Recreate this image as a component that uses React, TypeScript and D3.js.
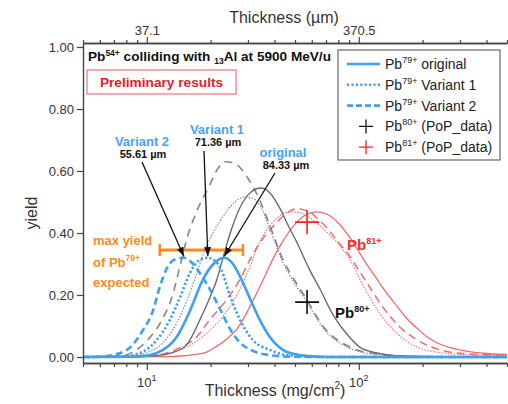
import React, { useEffect, useRef } from 'react';
import * as d3 from 'd3';

type Pt = [number, number];

// thickness (mg/cm^2) vs yield
const pb79Original: Pt[] = [[5, 0], [9.3, 0.002], [11.15, 0.013], [13.85, 0.065], [16.0, 0.15], [18.4, 0.25], [20.6, 0.3], [23.2, 0.32], [25.5, 0.3], [27.5, 0.26], [30.6, 0.19], [34.1, 0.12], [38.0, 0.065], [43.8, 0.023], [52.7, 0.006], [65, 0.001], [80, 0], [500, 0]];
const pb79Variant1: Pt[] = [[5, 0], [7.7, 0.002], [9.3, 0.013], [11.15, 0.055], [12.85, 0.12], [14.3, 0.19], [15.95, 0.27], [17.5, 0.31], [19.4, 0.32], [21.0, 0.31], [22.5, 0.28], [24.6, 0.2], [27.5, 0.12], [31.6, 0.055], [38, 0.023], [45.8, 0.006], [60, 0.001], [75, 0], [500, 0]];
const pb79Variant2: Pt[] = [[5, 0], [6.0, 0.001], [6.9, 0.006], [8.3, 0.03], [9.6, 0.087], [10.7, 0.15], [11.5, 0.225], [12.4, 0.285], [13.6, 0.315], [14.95, 0.32], [16.3, 0.305], [17.8, 0.27], [19.2, 0.235], [20.5, 0.2], [22.5, 0.145], [24.6, 0.092], [27.2, 0.05], [31.6, 0.02], [38, 0.006], [48, 0.001], [60, 0], [500, 0]];

const pb80Original: Pt[] = [[5, 0], [9, 0.001], [11.15, 0.005], [13.3, 0.015], [15.4, 0.039], [17.8, 0.12], [19.5, 0.18], [21.4, 0.25], [23.3, 0.34], [25.2, 0.416], [28.4, 0.5], [31, 0.532], [34.5, 0.545], [38, 0.53], [42.4, 0.48], [46, 0.43], [51, 0.37], [58.7, 0.28], [65.5, 0.22], [75, 0.14], [90, 0.065], [101, 0.032], [121.6, 0.013], [150, 0.004], [220, 0.001], [300, 0], [500, 0]];
const pb80Variant1: Pt[] = [[5, 0], [8, 0.002], [9.9, 0.013], [11.9, 0.045], [13.85, 0.11], [15.6, 0.19], [17.2, 0.27], [18.4, 0.33], [20.5, 0.4], [23, 0.455], [26, 0.5], [29, 0.516], [31.5, 0.512], [34.1, 0.49], [38, 0.415], [43.8, 0.305], [50, 0.235], [56.85, 0.177], [67.6, 0.095], [90.7, 0.028], [121.6, 0.008], [180, 0.002], [300, 0], [500, 0]];
const pb80Variant2: Pt[] = [[5, 0], [7.5, 0.003], [8.6, 0.016], [10.1, 0.055], [11.8, 0.12], [13.1, 0.19], [14.3, 0.29], [15.5, 0.385], [17.2, 0.47], [19.8, 0.555], [21.5, 0.605], [23.5, 0.63], [26, 0.625], [28.4, 0.6], [31, 0.56], [34.1, 0.506], [38, 0.425], [43.8, 0.315], [50, 0.245], [56.85, 0.185], [67.6, 0.1], [90.7, 0.032], [121.6, 0.01], [180, 0.002], [300, 0], [500, 0]];

const pb81Original: Pt[] = [[5, 0], [12, 0.001], [15, 0.004], [19, 0.015], [21.4, 0.035], [24, 0.06], [26.6, 0.09], [30, 0.15], [34.1, 0.226], [41, 0.34], [48.8, 0.42], [56, 0.458], [63.4, 0.468], [72, 0.458], [80, 0.432], [90, 0.388], [100, 0.34], [110, 0.295], [121.6, 0.252], [130, 0.222], [145, 0.18], [168, 0.125], [190, 0.09], [209, 0.066], [240, 0.042], [270, 0.03], [330, 0.017], [385, 0.012], [500, 0.008]];
const pb81Variant1: Pt[] = [[5, 0], [10, 0.002], [11.9, 0.006], [15.4, 0.032], [19.2, 0.077], [22.8, 0.13], [26.6, 0.2], [30.6, 0.29], [34, 0.37], [40, 0.44], [47.3, 0.468], [53, 0.465], [60, 0.445], [70, 0.405], [80, 0.365], [90.7, 0.315], [104, 0.235], [125.6, 0.14], [151, 0.077], [188, 0.032], [249, 0.013], [350, 0.006], [500, 0.005]];
const pb81Variant2: Pt[] = [[5, 0], [9, 0.001], [11.15, 0.006], [14.3, 0.03], [17.2, 0.065], [19.8, 0.12], [23.5, 0.18], [27.5, 0.25], [31, 0.32], [34.1, 0.368], [39.3, 0.42], [45, 0.46], [51, 0.478], [57, 0.472], [63, 0.45], [72, 0.41], [80, 0.37], [90.7, 0.325], [101, 0.275], [109, 0.24], [130, 0.16], [156, 0.097], [188, 0.055], [241, 0.023], [323, 0.01], [500, 0.006]];

// PoP data points
const pb80Data = [{ x: 57, y: 0.177 }];
const pb81Data = [{ x: 57, y: 0.435 }];

// expected max yield band
const maxYieldRange = [11.5, 28.4];
const maxYieldLevel = 0.345;

// annotated peaks
const peakNames = ['Variant 2', 'Variant 1', 'original'];
const peakThickness = ['55.61 µm', '71.36 µm', '84.33 µm'];
const peakPositions: Pt[] = [[14.95, 0.325], [19.4, 0.325], [23.2, 0.325]];

// ticks
const yTicks = [0, 0.2, 0.4, 0.6, 0.8, 1.0];
const xMajorTicks = [10, 100];
const xMinorTicks = [5, 6, 7, 8, 9, 20, 30, 40, 50, 60, 70, 80, 90, 200, 300, 400, 500];
const bottomTickExponents = ['1', '2'];
const topTickLabels = ['37.1', '370.5'];

const legendLabels = [
    ['79+', ' original'],
    ['79+', ' Variant 1'],
    ['79+', ' Variant 2'],
    ['80+', ' (PoP_data)'],
    ['81+', ' (PoP_data)'],
];

const font = '"Liberation Sans", Arial, sans-serif';

const App = () => {
    const ref = useRef<SVGSVGElement>(null);

    const width = 508;
    const height = 404;
    // plot frame
    const plot_x0 = 83;
    const plot_x1 = 507;
    const plot_y0 = 43;
    const plot_y1 = 363;

    const blue = '#3f9ff0';
    const grey = '#6a6a6a';
    const red = '#f26b6b';
    const orange = '#ff8a1c';

    useEffect(() => {
        const svg = d3.select(ref.current);
        svg.selectAll('*').remove();
        svg.attr('font-family', font);

        const x = d3.scaleLog().domain([5, 500]).range([plot_x0, plot_x1]);
        const y = d3.scaleLinear().domain([-0.0194, 1.0129]).range([plot_y1, plot_y0]);

        const defs = svg.append('defs');
        defs.append('clipPath').attr('id', 'plotClip')
            .append('rect')
            .attr('x', plot_x0).attr('y', plot_y0)
            .attr('width', plot_x1 - plot_x0).attr('height', plot_y1 - plot_y0);
        defs.append('marker')
            .attr('id', 'arrowHead')
            .attr('markerUnits', 'userSpaceOnUse')
            .attr('markerWidth', 10).attr('markerHeight', 8)
            .attr('refX', 9).attr('refY', 3.5)
            .attr('orient', 'auto')
            .append('path')
            .attr('d', 'M0,0 L9,3.5 L0,7 Z')
            .attr('fill', '#111');

        // superscript / subscript helper
        const rich = (sel, parts) => {
            let prev = 0;
            parts.forEach(([txt, size, shift]) => {
                sel.append('tspan')
                    .attr('dy', prev - shift)
                    .attr('font-size', size)
                    .text(txt);
                prev = shift;
            });
        };

        // curves
        const line = d3.line<Pt>()
            .x(d => x(d[0]))
            .y(d => y(d[1]))
            .curve(d3.curveMonotoneX);

        const seriesList = [
            { data: pb81Variant1, color: red, w: 1.1, dash: '1.5,1.5' },
            { data: pb81Variant2, color: red, w: 1.5, dash: '8,5' },
            { data: pb81Original, color: red, w: 1.3, dash: null },
            { data: pb80Variant1, color: '#808080', w: 1.1, dash: '1.5,1.5' },
            { data: pb80Variant2, color: '#858585', w: 1.6, dash: '8,6' },
            { data: pb80Original, color: grey, w: 1.4, dash: null },
            { data: pb79Variant2, color: blue, w: 2.6, dash: '7,4' },
            { data: pb79Variant1, color: blue, w: 2.6, dash: '2.2,2.2' },
            { data: pb79Original, color: blue, w: 2.6, dash: null },
        ];

        const curves = svg.append('g').attr('clip-path', 'url(#plotClip)');
        seriesList.forEach(s => {
            curves.append('path')
                .attr('d', line(s.data))
                .attr('fill', 'none')
                .attr('stroke', s.color)
                .attr('stroke-width', s.w)
                .attr('stroke-dasharray', s.dash);
        });

        // PoP data crosses
        const cross = (g, cx, cy, r, color, w) => {
            g.append('path')
                .attr('d', `M${cx - r},${cy} H${cx + r} M${cx},${cy - r} V${cy + r}`)
                .attr('stroke', color)
                .attr('stroke-width', w)
                .attr('fill', 'none');
        };
        pb80Data.forEach(d => cross(svg, x(d.x), y(d.y), 12, '#111', 1.6));
        pb81Data.forEach(d => cross(svg, x(d.x), y(d.y), 12, '#ff2020', 1.6));

        // labels on curves
        const pb81Label = svg.append('text').attr('x', 347).attr('y', 250)
            .attr('fill', '#ff2a2a').attr('font-weight', 'bold');
        rich(pb81Label, [['Pb', 15, 0], ['81+', 9, 6]]);
        const pb80Label = svg.append('text').attr('x', 335).attr('y', 318)
            .attr('fill', '#111').attr('font-weight', 'bold');
        rich(pb80Label, [['Pb', 15, 0], ['80+', 9, 6]]);

        // max yield bar
        const barY = y(maxYieldLevel);
        svg.append('line')
            .attr('x1', x(maxYieldRange[0])).attr('x2', x(maxYieldRange[1]))
            .attr('y1', barY).attr('y2', barY)
            .attr('stroke', orange).attr('stroke-width', 3);
        maxYieldRange.forEach(v => {
            svg.append('line')
                .attr('x1', x(v)).attr('x2', x(v))
                .attr('y1', barY - 6).attr('y2', barY + 6)
                .attr('stroke', orange).attr('stroke-width', 2.5);
        });

        const maxText = svg.append('g').attr('fill', orange).attr('font-weight', 'bold').attr('font-size', 13);
        maxText.append('text').attr('x', 93).attr('y', 245).text('max yield');
        rich(maxText.append('text').attr('x', 93).attr('y', 267), [['of Pb', 13, 0], ['79+', 8.5, 6]]);
        maxText.append('text').attr('x', 93).attr('y', 287).text('expected');

        // peak annotations
        const labelPos = [
            { x: 142, y: 146, start: [142, 162] },
            { x: 217, y: 134, start: [204, 151] },
            { x: 283, y: 157, start: [275, 173] },
        ];
        peakNames.forEach((name, i) => {
            const p = labelPos[i];
            svg.append('text')
                .attr('x', p.x).attr('y', p.y)
                .attr('text-anchor', 'middle')
                .attr('font-size', 13).attr('font-weight', 'bold')
                .attr('fill', '#4ba3f0')
                .text(name);
            svg.append('text')
                .attr('x', p.x + (i === 2 ? 3 : 1)).attr('y', p.y + 12)
                .attr('text-anchor', 'middle')
                .attr('font-size', 11).attr('font-weight', 'bold')
                .attr('fill', '#111')
                .text(peakThickness[i]);
            svg.append('line')
                .attr('x1', p.start[0]).attr('y1', p.start[1])
                .attr('x2', x(peakPositions[i][0])).attr('y2', y(peakPositions[i][1]))
                .attr('stroke', '#111').attr('stroke-width', 1.3)
                .attr('marker-end', 'url(#arrowHead)');
        });

        // axes
        const styleAxis = g => {
            g.select('.domain').attr('stroke', '#444').attr('stroke-width', 1.4);
            g.selectAll('.tick line').attr('stroke', '#444').attr('stroke-width', 1.2);
            g.selectAll('.tick text').attr('font-family', font).attr('font-size', 13).attr('fill', '#333');
        };

        const bottom = svg.append('g').attr('transform', `translate(0,${plot_y1})`);
        bottom.append('g')
            .call(d3.axisBottom(x).tickValues(xMinorTicks).tickSize(4).tickSizeOuter(0).tickFormat(() => ''))
            .call(styleAxis);
        bottom.append('g')
            .call(d3.axisBottom(x).tickValues(xMajorTicks).tickSize(7).tickSizeOuter(0).tickFormat(() => ''))
            .call(styleAxis);
        xMajorTicks.forEach((v, i) => {
            const t = bottom.append('text')
                .attr('x', x(v)).attr('y', 24)
                .attr('text-anchor', 'middle').attr('fill', '#333');
            rich(t, [['10', 13, 0], [bottomTickExponents[i], 9, 6]]);
        });
        const xTitle = svg.append('text')
            .attr('x', 275).attr('y', 396)
            .attr('text-anchor', 'middle').attr('fill', '#333');
        rich(xTitle, [['Thickness (mg/cm', 16, 0], ['2', 10, 7], [')', 16, 0]]);

        const top = svg.append('g').attr('transform', `translate(0,${plot_y0})`);
        top.append('g')
            .call(d3.axisTop(x).tickValues(xMinorTicks).tickSize(3).tickSizeOuter(0).tickFormat(() => ''))
            .call(styleAxis);
        top.append('g')
            .call(d3.axisTop(x).tickValues(xMajorTicks).tickSize(6).tickSizeOuter(0).tickPadding(2)
                .tickFormat((d, i) => topTickLabels[i]))
            .call(styleAxis);
        svg.append('text')
            .attr('x', 284).attr('y', 23)
            .attr('text-anchor', 'middle').attr('font-size', 16).attr('fill', '#333')
            .text('Thickness (µm)');

        svg.append('g')
            .attr('transform', `translate(${plot_x0},0)`)
            .call(d3.axisLeft(y).tickValues(yTicks).tickSize(6).tickSizeOuter(0).tickPadding(3)
                .tickFormat(d3.format('.2f')))
            .call(styleAxis);
        svg.append('text')
            .attr('transform', 'translate(37,213) rotate(-90)')
            .attr('text-anchor', 'middle').attr('font-size', 16).attr('fill', '#333')
            .text('yield');

        // title
        const title = svg.append('text').attr('x', 88).attr('y', 61)
            .attr('font-weight', 'bold').attr('fill', '#111');
        rich(title, [['Pb', 13.6, 0], ['54+', 8.5, 5], [' colliding with ', 13.6, 0], ['13', 8.5, -3], ['Al at 5900 MeV/u', 13.6, 0]]);

        svg.append('rect')
            .attr('x', 87).attr('y', 70).attr('width', 149).attr('height', 24)
            .attr('fill', 'white').attr('stroke', '#e85a5a').attr('stroke-width', 1);
        svg.append('text')
            .attr('x', 161.5).attr('y', 87)
            .attr('text-anchor', 'middle')
            .attr('font-size', 13.7).attr('font-weight', 'bold').attr('fill', '#e0202a')
            .text('Preliminary results');

        // legend
        const legend = svg.append('g');
        legend.append('rect')
            .attr('x', 338).attr('y', 50).attr('width', 162).attr('height', 110)
            .attr('fill', 'white').attr('stroke', '#666').attr('stroke-width', 1.2);
        const rowStyles = [
            { kind: 'line', dash: null },
            { kind: 'line', dash: '2.2,2.2' },
            { kind: 'line', dash: '6,3' },
            { kind: 'cross', color: '#111' },
            { kind: 'cross', color: '#ff2020' },
        ];
        legendLabels.forEach((lab, i) => {
            const cy = 64 + i * 20.8;
            const st = rowStyles[i];
            if (st.kind === 'line') {
                legend.append('line')
                    .attr('x1', 347).attr('x2', 380)
                    .attr('y1', cy).attr('y2', cy)
                    .attr('stroke', blue).attr('stroke-width', 2.6)
                    .attr('stroke-dasharray', st.dash);
            } else {
                cross(legend, 366, cy, 7, st.color, 1.3);
            }
            const t = legend.append('text').attr('x', 385).attr('y', cy + 5).attr('fill', '#222');
            rich(t, [['Pb', 14, 0], [lab[0], 9, 6], [lab[1], 14, 0]]);
        });
    }, []);

    return (
        <svg
            ref={ref}
            width={width}
            height={height}
            style={{ position: 'absolute', left: 0, top: 0, background: 'white' }}
        ></svg>
    );
};

export default App;
